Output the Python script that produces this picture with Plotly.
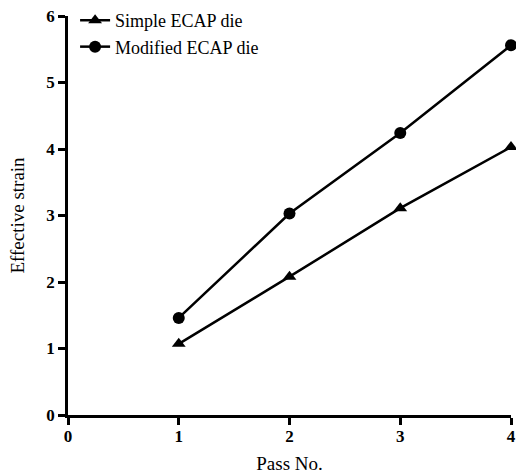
import plotly.graph_objects as go

passes = [1, 2, 3, 4]
simple_ecap = [1.07, 2.08, 3.11, 4.03]
modified_ecap = [1.46, 3.03, 4.24, 5.56]
x_ticks = [0, 1, 2, 3, 4]
y_ticks = [0, 1, 2, 3, 4, 5, 6]

serif = "Liberation Serif"

fig = go.Figure()
fig.add_trace(go.Scatter(x=passes, y=simple_ecap, mode="lines+markers",
                         name="Simple ECAP die",
                         line=dict(color="black", width=2.5),
                         marker=dict(symbol="triangle-up", size=12, color="black"),
                         cliponaxis=False))
fig.add_trace(go.Scatter(x=passes, y=modified_ecap, mode="lines+markers",
                         name="Modified ECAP die",
                         line=dict(color="black", width=2.5),
                         marker=dict(symbol="circle", size=12, color="black"),
                         cliponaxis=False))

axis_common = dict(showline=True, linecolor="black", linewidth=2.5,
                   ticks="outside", ticklen=7, tickwidth=2.5, tickcolor="black",
                   showgrid=False, zeroline=False, automargin=False,
                   tickfont=dict(family=serif, size=17, color="black", weight="bold"))

fig.update_layout(
    width=516, height=474,
    margin=dict(l=68, r=5, t=16, b=59, autoexpand=False),
    font=dict(family=serif, color="black"),
    plot_bgcolor="white", paper_bgcolor="white",
    xaxis=dict(range=[0, 4], tickvals=x_ticks, ticklabelstandoff=-3,
               title=dict(text="Pass No.", font=dict(family=serif, size=19, color="black"), standoff=13),
               **axis_common),
    yaxis=dict(range=[0, 6], tickvals=y_ticks,
               title=dict(text="Effective strain", font=dict(family=serif, size=19, color="black"), standoff=17),
               **axis_common),
    legend=dict(x=0.016, y=1.035, xanchor="left", yanchor="top",
                font=dict(family=serif, size=18, color="black"),
                bgcolor="rgba(0,0,0,0)", tracegroupgap=0, itemwidth=30),
    showlegend=True,
)

fig.write_html("out.html", config={"displayModeBar": False},
               post_script="document.body.style.margin='0';")
